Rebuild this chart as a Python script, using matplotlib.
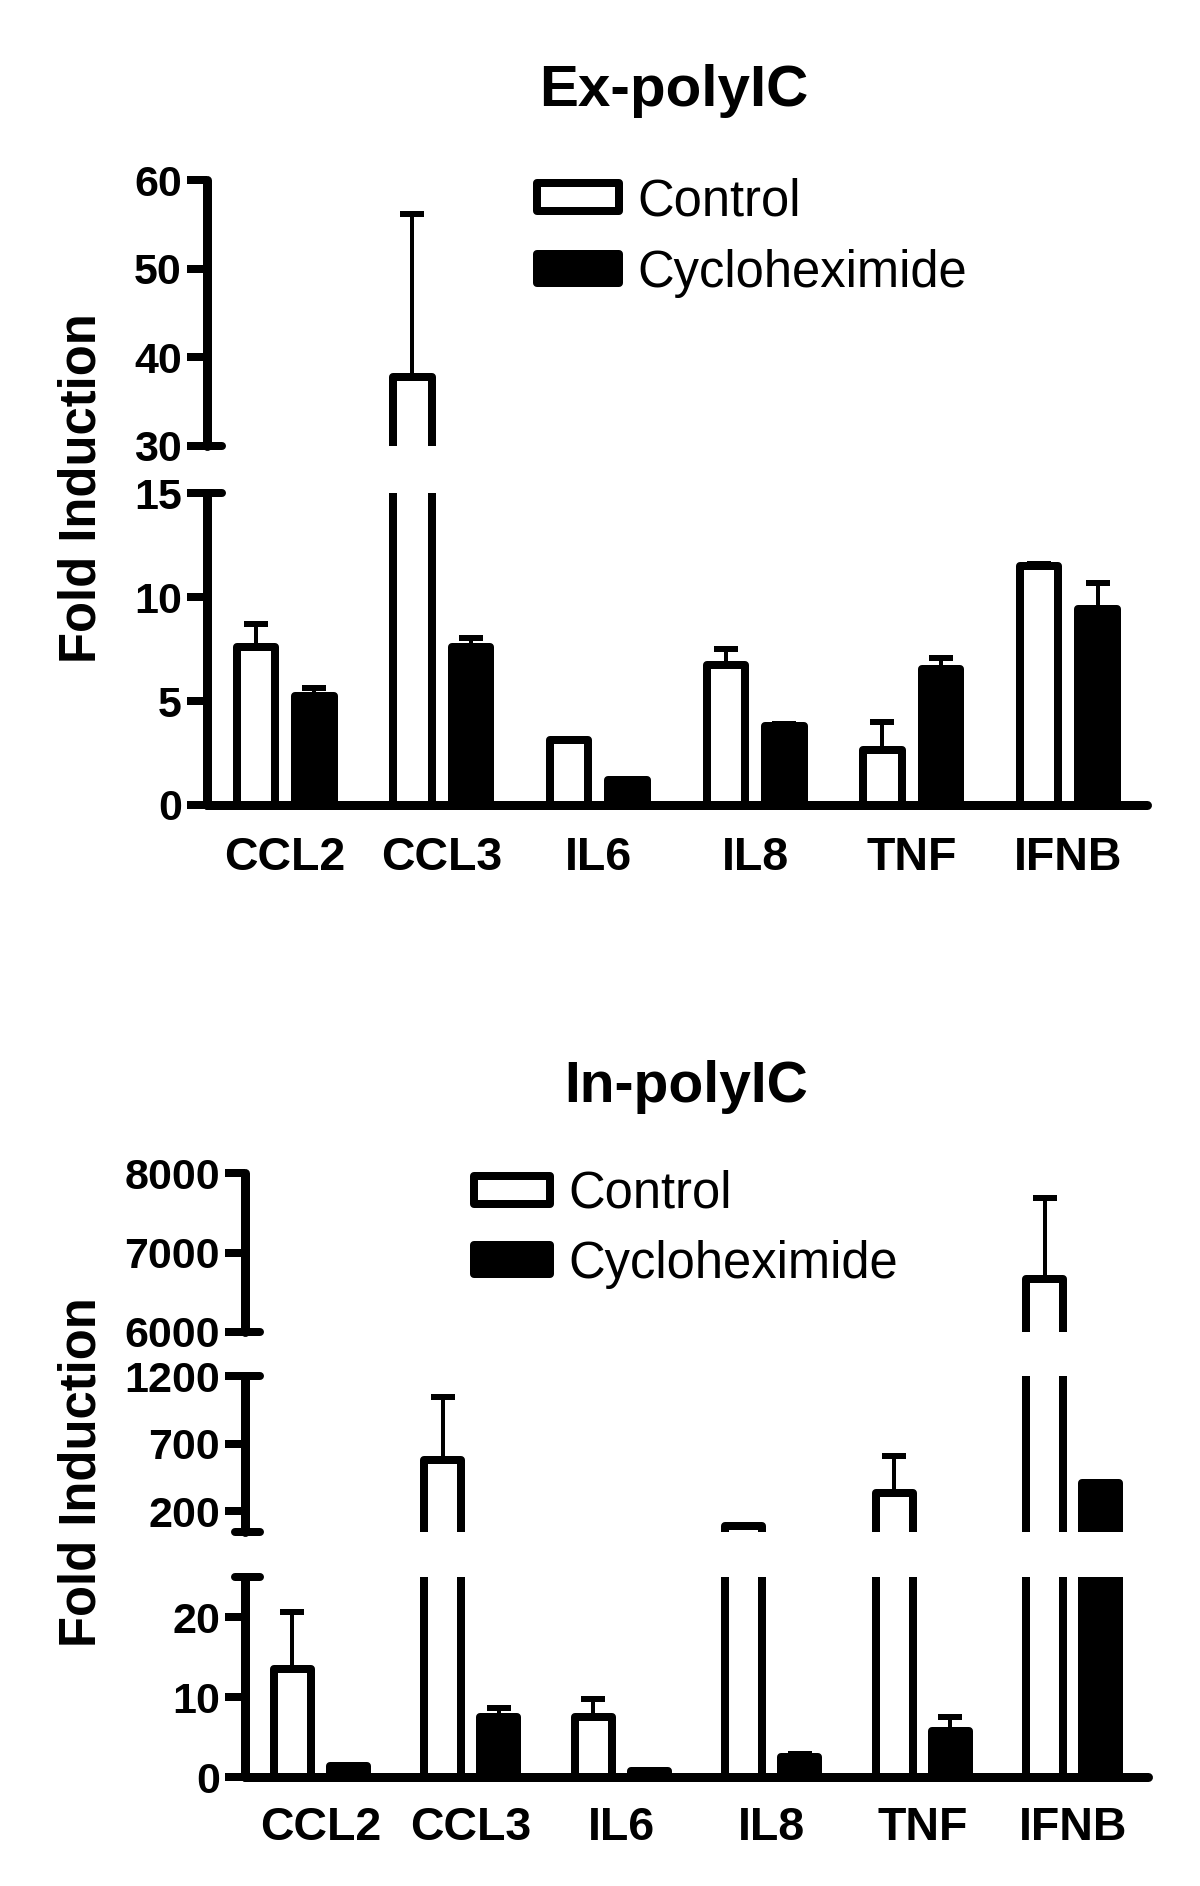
import matplotlib
matplotlib.use("Agg")
import matplotlib.pyplot as plt
import matplotlib.transforms as mtrans
import numpy as np

plt.rcParams['font.family'] = ['Liberation Sans', 'DejaVu Sans']
plt.rcParams['font.weight'] = 'bold'

# ---------------- data ----------------
genes = ['CCL2', 'CCL3', 'IL6', 'IL8', 'TNF', 'IFNB']
series = ['Control', 'Cycloheximide']

ex_control = [7.6, 37.8, 3.15, 6.75, 2.65, 11.5]
ex_control_err = [1.1, 18.4, 0.05, 0.75, 1.35, 0.1]
ex_chx = [5.25, 7.6, 1.2, 3.8, 6.55, 9.45]
ex_chx_err = [0.38, 0.42, 0.05, 0.1, 0.52, 1.25]

in_control = [13.6, 578, 7.55, 95, 338, 6665]
in_control_err = [7.1, 470, 2.2, 8, 273, 1023]
in_chx = [1.45, 7.55, 0.85, 2.5, 5.8, 407]
in_chx_err = [0.1, 1.15, 0.05, 0.4, 1.75, 12]

ex_segments = [(0, 15), (30, 60)]
ex_ticks = [[0, 5, 10, 15], [30, 40, 50, 60]]
in_segments = [(0, 25), (50, 1200), (6000, 8000)]
in_ticks = [[0, 10, 20], [200, 700, 1200], [6000, 7000, 8000]]

# ---------------- layout ----------------
W, H, DPI = 1200, 1886, 100
PT = 72.0 / DPI
fig = plt.figure(figsize=(W / DPI, H / DPI), dpi=DPI)

def px_axes(x0, x1, ytop, ybot):
    ax = fig.add_axes([x0 / W, 1 - ybot / H, (x1 - x0) / W, (ybot - ytop) / H])
    ax.patch.set_alpha(0)
    return ax

xpos = np.arange(len(genes))
BAR_W = 0.245
OFF = 0.187


def draw_chart(x0, x1, seg_px, segments, ticks, ctrl, ctrl_err, chx, chx_err,
               xlab_pad):
    axes = []
    n = len(genes)
    zeros = np.zeros(n)
    for i, ((ytop, ybot), (lo, hi), tk) in enumerate(zip(seg_px, segments, ticks)):
        ax = px_axes(x0, x1, ytop, ybot)
        axw = x1 - x0
        ax.errorbar(xpos - OFF, ctrl, yerr=[zeros, ctrl_err], fmt='none',
                    ecolor='black', elinewidth=4 * PT, capsize=8.3,
                    capthick=6 * PT, zorder=2)
        ax.errorbar(xpos + OFF, chx, yerr=[zeros, chx_err], fmt='none',
                    ecolor='black', elinewidth=4 * PT, capsize=8.3,
                    capthick=6 * PT, zorder=2)
        b1 = ax.bar(xpos - OFF, ctrl, BAR_W, color='white', edgecolor='black',
                    linewidth=8 * PT, zorder=3, label=series[0])
        b2 = ax.bar(xpos + OFF, chx, BAR_W, color='black', edgecolor='black',
                    linewidth=8 * PT, zorder=3, label=series[1])
        for p in list(b1.patches) + list(b2.patches):
            p.set_joinstyle('round')
        ax.set_xlim(-0.5, 5.5)
        ax.set_ylim(lo, hi)
        for s in ['top', 'right']:
            ax.spines[s].set_visible(False)
        ax.spines['left'].set_linewidth(9 * PT)
        ax.spines['left'].set_capstyle('round')
        ax.set_yticks(tk)
        ax.tick_params(axis='y', length=20 * PT, width=8 * PT, labelsize=31,
                       pad=5 * PT, direction='out')
        blend = mtrans.blended_transform_factory(ax.transAxes, ax.transData)
        if i == 0:
            ax.spines['bottom'].set_linewidth(9 * PT)
            ax.spines['bottom'].set_capstyle('round')
            ax.set_xticks(xpos, genes)
            ax.tick_params(axis='x', length=0, labelsize=33.5, pad=xlab_pad)
        else:
            ax.spines['bottom'].set_visible(False)
            ax.set_xticks([])
            # break end at bottom of segment
            left = 0 if lo in tk else -10 / axw
            ax.plot([left, 15 / axw], [lo, lo], transform=blend, color='black',
                    lw=8 * PT, solid_capstyle='round', clip_on=False)
        if i < len(segments) - 1:
            left = 0 if hi in tk else -10 / axw
            ax.plot([left, 15 / axw], [hi, hi], transform=blend, color='black',
                    lw=8 * PT, solid_capstyle='round', clip_on=False)
        axes.append(ax)
    return axes


# Top chart (Ex-polyIC)
ex_axes = draw_chart(206.7, 1146.7, [(493.3, 805), (180, 445.7)], ex_segments,
                     ex_ticks, ex_control, ex_control_err, ex_chx, ex_chx_err,
                     xlab_pad=22)
# Bottom chart (In-polyIC)
in_axes = draw_chart(245, 1148, [(1577.3, 1777.3), (1376, 1531.7), (1173.3, 1331.7)],
                     in_segments, in_ticks, in_control, in_control_err, in_chx,
                     in_chx_err, xlab_pad=21)

# titles and axis labels
fig.text(674 / W, 1 - 64 / H, 'Ex-polyIC', ha='center', va='top', fontsize=42,
         fontweight='bold')
fig.text(686 / W, 1 - 1060 / H, 'In-polyIC', ha='center', va='top', fontsize=41,
         fontweight='bold')
fig.text(82 / W, 1 - 488 / H, 'Fold Induction', rotation=90, ha='center',
         va='center', fontsize=36.5, fontweight='bold')
fig.text(82 / W, 1 - 1472 / H, 'Fold Induction', rotation=90, ha='center',
         va='center', fontsize=36.5, fontweight='bold')

# legends
LEG_FS = 36.5
fs_px = LEG_FS / PT

def add_legend(ax, x_left, y_top, geom_w, row_gap):
    h, l = ax.get_legend_handles_labels()
    leg = ax.legend(h, l, loc='upper left',
                    bbox_to_anchor=(x_left / W, 1 - y_top / H),
                    bbox_transform=fig.transFigure, frameon=False,
                    prop={'family': ['Liberation Sans', 'DejaVu Sans'],
                          'weight': 'normal', 'size': LEG_FS},
                    handlelength=geom_w / fs_px, handleheight=25 / fs_px,
                    handletextpad=18 / fs_px,
                    labelspacing=(row_gap - 0.953 * fs_px) / fs_px,
                    borderpad=0, borderaxespad=0)
    for p in leg.get_patches():
        p.set_joinstyle('round')
    return leg

add_legend(ex_axes[-1], 537, 177, 82, 71)
add_legend(in_axes[-1], 474, 1170, 76, 69)

fig.savefig('out.png', dpi=DPI)
